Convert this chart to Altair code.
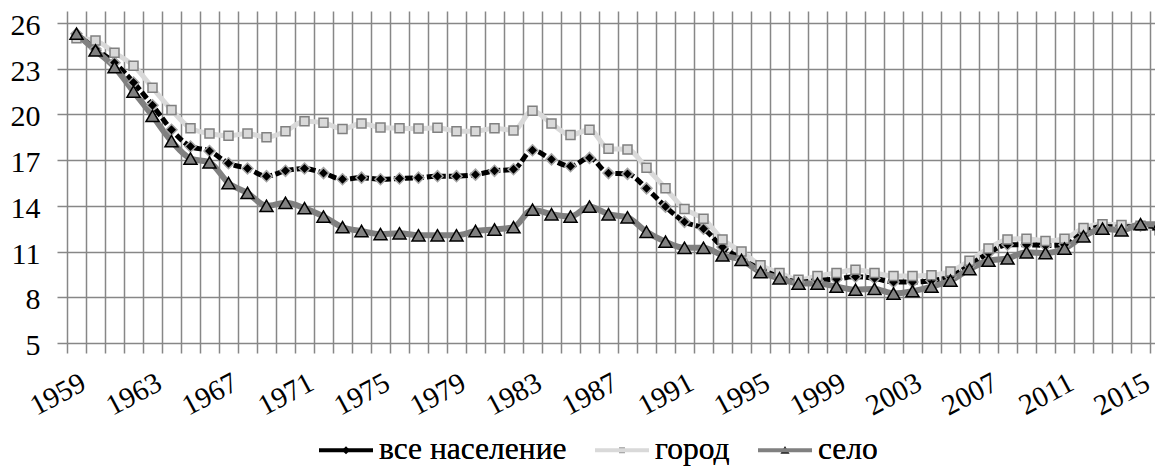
import altair as alt
import pandas as pd

# ---- data ---------------------------------------------------------------
years = list(range(1959, 2017))

series_names = ["все население", "город", "село"]

all_pop = [25.3, 24.3, 23.4, 22.1, 20.6, 19.0, 17.9, 17.6, 16.8, 16.45,
           15.95, 16.3, 16.45, 16.15, 15.75, 15.85, 15.75, 15.8, 15.85, 15.95,
           15.95, 16.05, 16.3, 16.4, 17.65, 17.05, 16.6, 17.15, 16.15, 16.1,
           15.15, 13.95, 12.95, 12.5, 11.3, 10.5, 9.85, 9.35, 9.0, 9.1,
           9.2, 9.35, 9.25, 9.0, 9.0, 9.1, 9.35, 10.1, 10.9, 11.45,
           11.45, 11.4, 11.45, 12.25, 12.65, 12.6, 12.7, 12.6]

city = [25.0, 24.85, 24.05, 23.2, 21.75, 20.3, 19.1, 18.75, 18.6, 18.75,
        18.5, 18.9, 19.55, 19.45, 19.05, 19.4, 19.15, 19.1, 19.07, 19.13,
        18.9, 18.9, 19.1, 18.95, 20.25, 19.4, 18.65, 19.0, 17.75, 17.7,
        16.5, 15.15, 13.8, 13.15, 11.8, 11.0, 10.1, 9.6, 9.15, 9.4,
        9.6, 9.8, 9.6, 9.4, 9.4, 9.45, 9.7, 10.4, 11.2, 11.8,
        11.85, 11.7, 11.85, 12.55, 12.8, 12.75, 12.7, 12.4]

rural = [25.3, 24.2, 23.1, 21.5, 19.9, 18.25, 17.1, 16.85, 15.5, 14.85,
         14.0, 14.2, 13.85, 13.3, 12.6, 12.35, 12.15, 12.2, 12.07, 12.07,
         12.07, 12.35, 12.45, 12.6, 13.75, 13.45, 13.3, 13.95, 13.45, 13.25,
         12.3, 11.65, 11.25, 11.25, 10.75, 10.45, 9.65, 9.25, 8.9, 8.9,
         8.7, 8.5, 8.55, 8.25, 8.4, 8.7, 9.1, 9.85, 10.4, 10.55,
         10.95, 10.9, 11.2, 12.0, 12.5, 12.4, 12.8, 12.8]

x_label_years = [1959, 1963, 1967, 1971, 1975, 1979, 1983, 1987, 1991,
                 1995, 1999, 2003, 2007, 2011, 2015]
y_ticks = [5, 8, 11, 14, 17, 20, 23, 26]

rows = []
for name, vals in zip(series_names, [all_pop, city, rural]):
    for yr, v in zip(years, vals):
        rows.append({"year": yr, "value": v, "series": name})
df = pd.DataFrame(rows)

# ---- style --------------------------------------------------------------
GRID = "#878787"
FONT = "Times New Roman, Liberation Serif, DejaVu Serif, serif"
W, H = 1088, 332
PX_PER_YEAR = 19.0
x_max = 1958.5 + W / PX_PER_YEAR
boundaries = [y - 0.5 for y in years if y - 0.5 <= x_max]

label_list = ",".join(str(v) for v in x_label_years)
x_axis = alt.Axis(
    values=boundaries, grid=True, gridColor=GRID, gridWidth=1.5,
    ticks=True, tickSize=10, tickColor=GRID, tickWidth=1.5, domain=False,
    labelExpr=f"indexof([{label_list}], datum.value + 0.5) >= 0 ? format(datum.value + 0.5, 'd') : ''",
    labelAngle=-28, labelAlign="right", labelBaseline="top",
    labelOffset=PX_PER_YEAR / 2, labelPadding=15, labelFlush=False,
    labelOverlap=False, labelFont=FONT, labelFontSize=29, labelColor="black",
    title=None,
)
y_axis = alt.Axis(
    values=y_ticks, grid=True, gridColor=GRID, gridWidth=1.5,
    ticks=True, tickSize=10, tickColor=GRID, tickWidth=1.5, domain=False,
    labelFont=FONT, labelFontSize=30, labelColor="black", labelPadding=17,
    labelOffset=2.5, title=None,
)

X = alt.X("year:Q", scale=alt.Scale(domain=[1958.5, x_max], nice=False, zero=False), axis=x_axis)
Y = alt.Y("value:Q", scale=alt.Scale(domain=[5, 26.79], nice=False, zero=False), axis=y_axis)

legend = alt.Legend(
    orient="none", legendX=250, legendY=410, direction="horizontal", title=None,
    symbolSize=2916, symbolStrokeWidth=4, symbolDash=[1, 0], symbolOpacity=1,
    labelFont=FONT, labelFontSize=31.5, labelColor="black", labelOffset=4,
    labelLimit=0, columnPadding=20,
)

# legend symbols: a line segment with the series marker in the middle
legend_paths = ["M-1,0H1M0,-0.15L0.15,0L0,0.15L-0.15,0Z",
                "M-1,0H1M-0.11,-0.11H0.11V0.11H-0.11Z",
                "M-1,0H1M0,-0.16L0.17,0.13H-0.17Z"]
legend_fill = ["black", "#9a9a9a", "#202020"]
line_colors = ["black", "#d9d9d9", "#808080"]

color = alt.Color("series:N", scale=alt.Scale(range=line_colors), legend=legend)

base = alt.Chart(df)

legend_layer = base.mark_point(opacity=0, filled=True).encode(
    x=X, y=Y,
    shape=alt.Shape("series:N", scale=alt.Scale(range=legend_paths), legend=legend),
    fill=alt.Fill("series:N", scale=alt.Scale(range=legend_fill), legend=legend),
)

def line(name, **kw):
    return base.transform_filter(alt.datum.series == name).mark_line(
        interpolate="monotone", **kw).encode(x=X, y=Y, color=color)

def pts(name, **kw):
    return base.transform_filter(alt.datum.series == name).mark_point(
        filled=True, opacity=1, strokeWidth=1.5, **kw).encode(x=X, y=Y)

layers = [
    legend_layer,
    line("город", strokeWidth=5),
    line("все население", strokeWidth=5, strokeDash=[8, 3]),
    line("село", strokeWidth=6),
    pts("все население", shape="diamond", fill="black", stroke="#a6a6a6", size=121),
    pts("город", shape="square", fill="#d9d9d9", stroke="#808080", size=81),
    pts("село", shape="triangle-up", fill="#808080", stroke="black", size=170),
]

chart = alt.layer(*layers).properties(
    width=W, height=H,
    autosize=alt.AutoSizeParams(type="none"),
    padding={"left": 59, "top": 3, "right": 0, "bottom": 125},
    background="white",
).configure_view(stroke=None)

chart.save("out.html", embed_options={"renderer": "svg", "actions": False})
